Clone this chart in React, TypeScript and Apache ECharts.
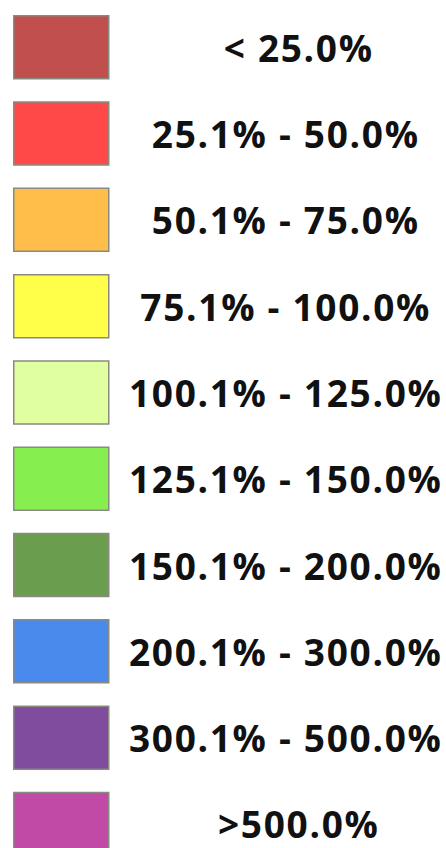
import React, { useEffect, useRef } from "react";
import * as echarts from "echarts";

const rangeLabels = [
  "< 25.0%",
  "25.1% - 50.0%",
  "50.1% - 75.0%",
  "75.1% - 100.0%",
  "100.1% - 125.0%",
  "125.1% - 150.0%",
  "150.1% - 200.0%",
  "200.1% - 300.0%",
  "300.1% - 500.0%",
  ">500.0%",
];

const rangeColors = [
  "#C04F4D",
  "#FF4848",
  "#FFBE4A",
  "#FFFF4A",
  "#E0FFA0",
  "#86EE4E",
  "#6A9E4E",
  "#4A8AEC",
  "#7F4C9E",
  "#C04AA6",
];

const baseText = {
  width: 344,
  align: "center",
  fontFamily: "Open Sans",
  fontWeight: "bold",
  fontSize: 37,
  color: "#111111",
  lineHeight: 44,
};

export default function App() {
  const ref = useRef<HTMLDivElement>(null);
  useEffect(() => {
    if (!ref.current) return;
    const chart = echarts.init(ref.current, undefined, { renderer: "svg" });
    chart.setOption({
      animation: false,
      backgroundColor: "#ffffff",
      grid: { left: -100, top: -100, width: 10, height: 10 },
      xAxis: { type: "category", show: false, data: [] },
      yAxis: { type: "value", show: false },
      legend: {
        orient: "vertical",
        left: 13,
        top: 15,
        height: 2000,
        padding: 0,
        itemWidth: 95,
        itemHeight: 63,
        itemGap: 21.8,
        selectedMode: false,
        icon: "rect",
        data: rangeLabels.map((name, i) => ({
          name,
          icon: "rect",
          itemStyle: {
            color: rangeColors[i],
            borderColor: "#8a8a80",
            borderWidth: 1.5,
          },
        })),
        formatter: (name: string) => (name.length < 10 ? `{s|${name}}` : `{t|${name}}`),
        textStyle: {
          rich: {
            t: { ...baseText },
            s: { ...baseText, width: 318, padding: [0, 0, 0, 26] },
          },
        },
      },
      series: rangeLabels.map((name, i) => ({
        type: "bar",
        name,
        data: [],
        itemStyle: { color: rangeColors[i] },
      })),
    });
    return () => chart.dispose();
  }, []);
  return (
    <>
      <style>{`#range-legend text { letter-spacing: 1.7px; }`}</style>
      <div
        id="range-legend"
        ref={ref}
        style={{ width: 446, height: 848, position: "absolute", left: 0, top: 0 }}
      />
    </>
  );
}
